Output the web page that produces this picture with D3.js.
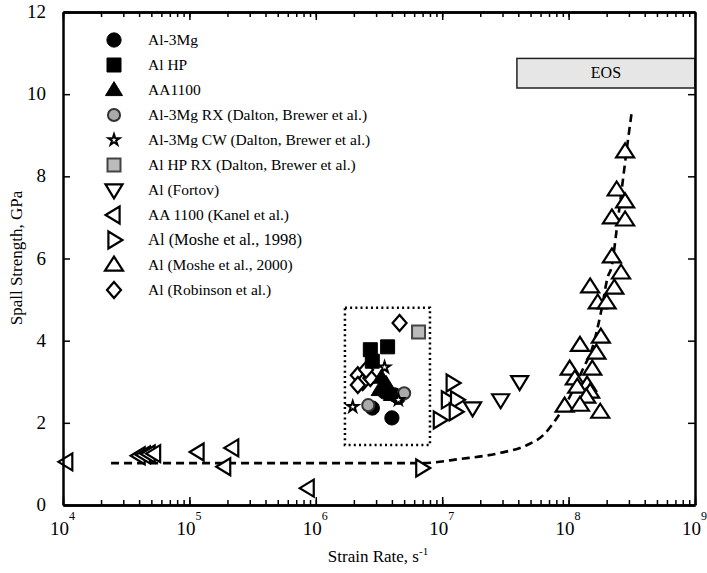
<!DOCTYPE html>
<html><head><meta charset="utf-8">
<script src="https://cdn.jsdelivr.net/npm/d3@7"></script>
<style>body{margin:0;background:#fff}svg{display:block}text{font-family:"Liberation Serif","Times New Roman",serif;fill:#000}</style>
</head><body><svg id="c" width="707" height="573"></svg>
<script>
// ---- data (strain rate s^-1, spall strength GPa) ----
const al3Mg      = [[2.8e6,2.36],[3.5e6,2.75],[4.2e6,2.68],[4.0e6,2.12],[4.5e6,2.62]];
const alHP       = [[2.7e6,3.78],[2.8e6,3.5],[3.7e6,3.85]];
const aa1100     = [[3.3e6,3.1],[3.2e6,2.8],[4.0e6,2.68],[3.6e6,2.95]];
const al3MgRX    = [[2.6e6,2.43],[5.0e6,2.72]];
const al3MgCW    = [[1.96e6,2.39],[4.5e6,2.56],[3.5e6,3.35]];
const alHPRX     = [[6.5e6,4.21]];
const fortov     = [[1.74e7,2.36],[2.9e7,2.56],[4.1e7,3.0]];
const kanel      = [[1.07e4,1.05],[4.0e4,1.2],[4.4e4,1.22],[4.8e4,1.24],[5.3e4,1.25],[1.17e5,1.29],[2.2e5,1.39],[1.9e5,0.93],[8.7e5,0.41]];
const moshe1998  = [[1.2e7,2.97],[1.1e7,2.56],[1.3e7,2.56],[1.27e7,2.27],[9.5e6,2.07],[6.9e6,0.9]];
const moshe2000  = [[2.8e8,8.6],[2.4e8,7.67],[2.8e8,7.38],[2.2e8,6.99],[2.8e8,6.94],[2.2e8,6.04],[2.6e8,5.65],
                    [1.48e8,5.31],[2.3e8,5.28],[1.7e8,4.92],[2.0e8,4.92],[1.8e8,4.09],[1.23e8,3.89],[1.66e8,3.7],
                    [1.02e8,3.31],[1.54e8,3.31],[1.12e8,3.07],[1.4e8,2.92],[1.17e8,2.87],[1.48e8,2.75],[1.38e8,2.63],
                    [9.3e7,2.41],[1.23e8,2.43],[1.78e8,2.26]];
const robinson   = [[4.6e6,4.43],[2.15e6,3.16],[2.35e6,2.99],[2.7e6,3.09],[2.15e6,2.92],[2.5e6,3.29]];
const trendCurve = [[2.4e4,1.02],[1e6,1.02],[7e6,1.02],[1.38e7,1.12],[2.9e7,1.27],[4.7e7,1.46],[6.3e7,1.7],[7.6e7,2.0],
                    [1.02e8,2.63],[1.29e8,3.29],[1.55e8,3.85],[1.82e8,4.75],[2.04e8,5.55],[2.19e8,5.8],[2.4e8,6.7],
                    [2.63e8,7.67],[2.88e8,8.64],[3.16e8,9.57]];
const dottedBox  = {x0:1.7e6, x1:8.0e6, y0:1.46, y1:4.8};
const eosBox     = {x0:3.9e7, x1:1e9, y0:10.15, y1:10.87, label:"EOS"};
const xExponents = [4,5,6,7,8,9];
const yTicks     = [0,2,4,6,8,10,12];
const legendLabels = ["Al-3Mg","Al HP","AA1100","Al-3Mg RX (Dalton, Brewer et al.)","Al-3Mg CW (Dalton, Brewer et al.)",
  "Al HP RX (Dalton, Brewer et al.)","Al (Fortov)","AA 1100 (Kanel et al.)","Al (Moshe et al., 1998)",
  "Al (Moshe et al., 2000)","Al (Robinson et al.)"];

// ---- layout ----
const svg = d3.select("#c");
const L=63,R=695,T=12,B=505;
const x = d3.scaleLog().domain([1e4,1e9]).range([L,R]);
const y = d3.scaleLinear().domain([0,12]).range([B,T]);

function tri(w,h){return `M0,${-h*0.6}L${w/2},${h*0.4}L${-w/2},${h*0.4}Z`;}
const shapes = {
  circle:  {d:d3.symbol(d3.symbolCircle,160)(), fill:"#000", stroke:"#000", sw:1},
  square:  {d:"M-7,-7H7V7H-7Z", fill:"#000", stroke:"#000", sw:1},
  triFill: {d:tri(17,14), fill:"#000", stroke:"#000", sw:1},
  circGray:{d:d3.symbol(d3.symbolCircle,115)(), fill:"#aaa", stroke:"#333", sw:2},
  star:    {d:d3.symbol(d3.symbolStar,38)(), fill:"#fff", stroke:"#000", sw:2},
  sqGray:  {d:"M-6.5,-6.5H6.5V6.5H-6.5Z", fill:"#bbb", stroke:"#444", sw:2},
  triDown: {d:tri(17,14), fill:"#fff", stroke:"#000", sw:2.2, rot:180},
  triLeft: {d:tri(17,14), fill:"#fff", stroke:"#000", sw:2.2, rot:-90},
  triRight:{d:tri(17,14), fill:"#fff", stroke:"#000", sw:2.2, rot:90},
  triUp:   {d:tri(18,14), fill:"#fff", stroke:"#000", sw:2.2},
  diamond: {d:"M0,-8L7,0L0,8L-7,0Z", fill:"#fff", stroke:"#000", sw:2.2}
};
const seriesList = [
  {data:kanel, shape:"triLeft"},{data:moshe1998, shape:"triRight"},{data:fortov, shape:"triDown"},
  {data:moshe2000, shape:"triUp"},{data:robinson, shape:"diamond"},{data:alHPRX, shape:"sqGray"},
  {data:alHP, shape:"square"},{data:aa1100, shape:"triFill"},{data:al3Mg, shape:"circle"},
  {data:al3MgRX, shape:"circGray"},{data:al3MgCW, shape:"star"}
];
const legendShapes = ["circle","square","triFill","circGray","star","sqGray","triDown","triLeft","triRight","triUp","diamond"];

function drawMarker(g, s, px, py){
  const sh = shapes[s];
  g.append("path").attr("d", sh.d)
    .attr("transform", `translate(${px},${py})` + (sh.rot ? ` rotate(${sh.rot})` : ""))
    .attr("fill", sh.fill).attr("stroke", sh.stroke).attr("stroke-width", sh.sw);
}

// EOS box
svg.append("rect").attr("x",x(eosBox.x0)).attr("y",y(eosBox.y1))
  .attr("width",x(eosBox.x1)-x(eosBox.x0)).attr("height",y(eosBox.y0)-y(eosBox.y1))
  .attr("fill","#e6e6e6").attr("stroke","#222").attr("stroke-width",1.5);
svg.append("text").attr("x",(x(eosBox.x0)+x(eosBox.x1))/2).attr("y",(y(eosBox.y0)+y(eosBox.y1))/2+5)
  .attr("text-anchor","middle").attr("font-size",16).text(eosBox.label);

// dotted box
svg.append("rect").attr("x",x(dottedBox.x0)).attr("y",y(dottedBox.y1))
  .attr("width",x(dottedBox.x1)-x(dottedBox.x0)).attr("height",y(dottedBox.y0)-y(dottedBox.y1))
  .attr("fill","none").attr("stroke","#000").attr("stroke-width",2.5).attr("stroke-dasharray","2,3.2");

// trend curve
svg.append("path").datum(trendCurve)
  .attr("d", d3.line().x(d=>x(d[0])).y(d=>y(d[1])).curve(d3.curveMonotoneX))
  .attr("fill","none").attr("stroke","#000").attr("stroke-width",2.6).attr("stroke-dasharray","8,5");

// markers
const gm = svg.append("g");
seriesList.forEach(s => s.data.forEach(d => drawMarker(gm, s.shape, x(d[0]), y(d[1]))));

// axes (ticks inward)
const minorVals = [];
for (let e=4;e<9;e++) for (let m=1;m<=9;m++) minorVals.push(m*Math.pow(10,e));
minorVals.push(1e9);
const majorVals = xExponents.map(e=>Math.pow(10,e));
function styleAxis(g){g.select(".domain").attr("stroke-width",2.5);g.selectAll(".tick line").attr("stroke-width",1.5);g.selectAll("text").remove();}
svg.append("g").attr("transform",`translate(0,${B})`).call(d3.axisBottom(x).tickValues(minorVals).tickSizeInner(-5).tickSizeOuter(0).tickFormat("")).call(styleAxis);
svg.append("g").attr("transform",`translate(0,${T})`).call(d3.axisTop(x).tickValues(minorVals).tickSizeInner(-5).tickSizeOuter(0).tickFormat("")).call(styleAxis);
svg.append("g").attr("transform",`translate(0,${B})`).call(d3.axisBottom(x).tickValues(majorVals).tickSizeInner(-8).tickSizeOuter(0).tickFormat("")).call(styleAxis);
svg.append("g").attr("transform",`translate(0,${T})`).call(d3.axisTop(x).tickValues(majorVals).tickSizeInner(-8).tickSizeOuter(0).tickFormat("")).call(styleAxis);
svg.append("g").attr("transform",`translate(${L},0)`).call(d3.axisLeft(y).tickValues(yTicks).tickSizeInner(-7).tickSizeOuter(0).tickFormat("")).call(styleAxis);
svg.append("g").attr("transform",`translate(${R},0)`).call(d3.axisRight(y).tickValues(yTicks).tickSizeInner(-7).tickSizeOuter(0).tickFormat("")).call(styleAxis);

// x tick labels (10 with superscript exponent)
xExponents.forEach(e=>{
  const t = svg.append("text").attr("x",x(Math.pow(10,e))-13).attr("y",535).attr("font-size",19);
  t.append("tspan").text("10");
  t.append("tspan").attr("dy",-15).attr("font-size",12).text(e);
});
// y tick labels
yTicks.forEach(v=>{
  svg.append("text").attr("x",46).attr("y",y(v)+6).attr("text-anchor","end").attr("font-size",19).text(v);
});
// axis titles
const xt = svg.append("text").attr("x",378).attr("y",562).attr("text-anchor","middle").attr("font-size",17);
xt.append("tspan").text("Strain Rate, s");
xt.append("tspan").attr("dy",-7).attr("font-size",11).text("-1");
svg.append("text").attr("transform","translate(22,258) rotate(-90)").attr("text-anchor","middle").attr("font-size",17).text("Spall Strength, GPa");

// legend
const lg = svg.append("g");
legendLabels.forEach((lab,i)=>{
  const ly = 40 + i*25;
  drawMarker(lg, legendShapes[i], 114, ly);
  lg.append("text").attr("x",148).attr("y",ly+5).attr("font-size", i===8?16.5:15.5).text(lab);
});
</script></body></html>
